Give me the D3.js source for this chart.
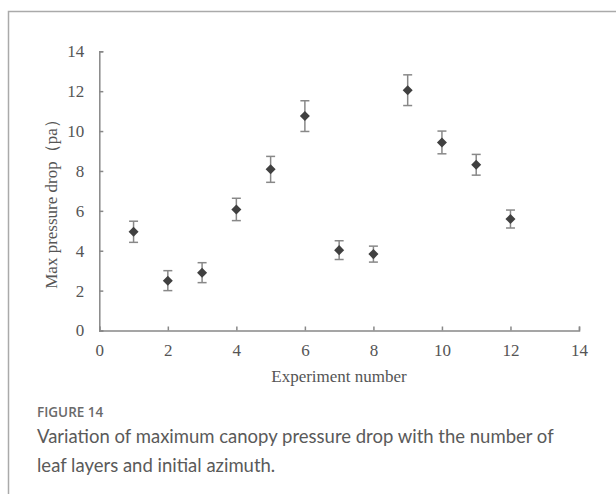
<!DOCTYPE html>
<html>
<head>
<meta charset="utf-8">
<script src="https://cdn.jsdelivr.net/npm/d3@7"></script>
<style>
  html, body { margin: 0; padding: 0; background: #fff; }
  svg { display: block; }
</style>
</head>
<body>
<svg id="chart" width="616" height="494"></svg>
<script>
// ---- data ----
const experiments = [1, 2, 3, 4, 5, 6, 7, 8, 9, 10, 11, 12];
const pressureDrop = [4.95, 2.5, 2.9, 6.07, 8.08, 10.75, 4.03, 3.83, 12.05, 9.43, 8.31, 5.59];
const errorValues = [0.53, 0.5, 0.5, 0.56, 0.65, 0.77, 0.47, 0.4, 0.77, 0.57, 0.52, 0.45];
const xTicks = [0, 2, 4, 6, 8, 10, 12, 14];
const yTicks = [0, 2, 4, 6, 8, 10, 12, 14];
const xTitle = "Experiment number";
const yTitle = "Max pressure drop（pa）";
const figLabel = "FIGURE 14";
const captionLines = [
  "Variation of maximum canopy pressure drop with the number of",
  "leaf layers and initial azimuth."
];

const svg = d3.select("#chart");

// frame
svg.append("path")
  .attr("d", "M8.5,494 L8.5,11.5 L616,11.5")
  .attr("fill", "none")
  .attr("stroke", "#aaa")
  .attr("stroke-width", 1.5);

const x = d3.scaleLinear().domain([0, 14]).range([99.3, 579]);
const y = d3.scaleLinear().domain([0, 14]).range([330.5, 51.3]);

const axisColor = "#888";
const textColor = "#555";
const serif = "'Liberation Serif', 'Times New Roman', serif";

// x axis (ticks pointing up / inward)
const gx = svg.append("g")
  .attr("transform", `translate(0,${y(0)})`)
  .call(d3.axisBottom(x).tickValues(xTicks).tickSize(-4).tickPadding(13).tickFormat(d3.format("d")));
gx.select(".domain").attr("stroke", axisColor).attr("stroke-width", 1.5);
gx.selectAll(".tick line").attr("stroke", axisColor).attr("stroke-width", 1.5);
gx.selectAll(".tick text").attr("fill", textColor).style("font-family", serif).style("font-size", "17px");

// y axis (ticks pointing right / inward)
const gy = svg.append("g")
  .attr("transform", `translate(${x(0)},0)`)
  .call(d3.axisLeft(y).tickValues(yTicks).tickSize(-4).tickPadding(15).tickFormat(d3.format("d")));
gy.select(".domain").attr("stroke", axisColor).attr("stroke-width", 1.5);
gy.selectAll(".tick text").attr("fill", textColor).style("font-family", serif).style("font-size", "17px");
gy.selectAll(".tick line").attr("stroke", axisColor).attr("stroke-width", 1.5);

// axis titles
svg.append("text")
  .attr("x", 339).attr("y", 382)
  .attr("text-anchor", "middle")
  .attr("fill", textColor)
  .style("font-family", serif).style("font-size", "17px")
  .text(xTitle);

svg.append("text")
  .attr("transform", "translate(57,200) rotate(-90)")
  .attr("text-anchor", "middle")
  .attr("fill", textColor)
  .style("font-family", serif).style("font-size", "17px")
  .text(yTitle);

// error bars
const data = experiments.map((e, i) => ({ x: e, y: pressureDrop[i], err: errorValues[i] }));
const eb = svg.append("g").attr("stroke", axisColor).attr("stroke-width", 1.5).attr("fill", "none");
data.forEach(d => {
  const cx = x(d.x), y1 = y(d.y + d.err), y2 = y(d.y - d.err);
  eb.append("line").attr("x1", cx).attr("x2", cx).attr("y1", y1).attr("y2", y2);
  eb.append("line").attr("x1", cx - 4.5).attr("x2", cx + 4.5).attr("y1", y1).attr("y2", y1);
  eb.append("line").attr("x1", cx - 4.5).attr("x2", cx + 4.5).attr("y1", y2).attr("y2", y2);
});

// markers (diamonds)
svg.append("g").selectAll("path")
  .data(data)
  .join("path")
  .attr("d", d3.symbol().type(d3.symbolDiamond2).size(64))
  .attr("transform", d => `translate(${x(d.x)},${y(d.y)})`)
  .attr("fill", "#404040");

// caption
svg.append("text")
  .attr("x", 37).attr("y", 417)
  .attr("fill", "#6a6a6a")
  .style("font-family", "'Open Sans', Lato, sans-serif")
  .style("font-size", "13.5px")
  .style("font-weight", "600")
  .text(figLabel);

svg.selectAll(".cap")
  .data(captionLines)
  .join("text")
  .attr("class", "cap")
  .attr("x", 37)
  .attr("y", (d, i) => 443 + i * 29)
  .attr("fill", "#5a5a5a")
  .style("font-family", "Lato, 'Open Sans', sans-serif")
  .style("font-size", "18.5px")
  .text(d => d);
</script>
</body>
</html>
